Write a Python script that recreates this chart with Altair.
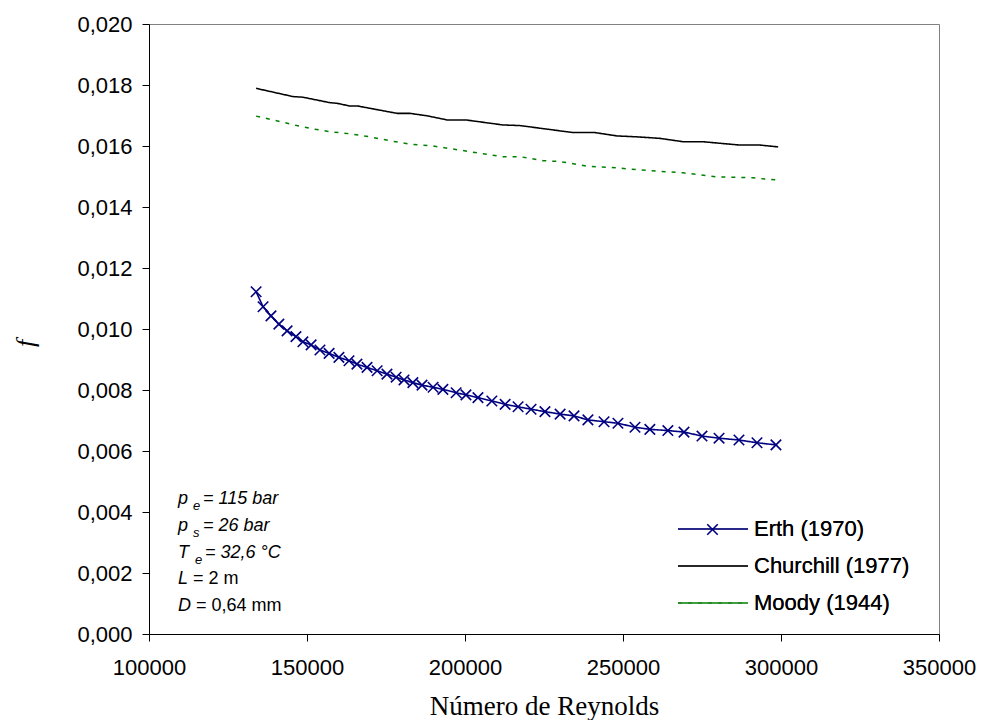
import altair as alt
import pandas as pd

# ---------------- data ----------------
series_names = ["Erth (1970)", "Churchill (1977)", "Moody (1944)"]

erth_re = [133900, 136100, 138600, 141100, 143700, 146500, 148700, 151300, 154100, 157000,
           160100, 163300, 165800, 169000, 172200, 175300, 178200, 180700, 183500, 186400,
           189900, 193000, 197200, 200300, 204100, 208500, 212700, 216800, 220900, 225300,
           230100, 234500, 238900, 244000, 248400, 253800, 258500, 264200, 269300, 275000,
           280400, 286700, 292400, 298400]
erth_f = [0.01122, 0.01073, 0.01043, 0.01016, 0.00994, 0.00975, 0.00958, 0.00948, 0.00931, 0.00920,
          0.00907, 0.00896, 0.00885, 0.00874, 0.00863, 0.00852, 0.00842, 0.00833, 0.00824, 0.00816,
          0.00809, 0.00802, 0.00791, 0.00784, 0.00775, 0.00764, 0.00753, 0.00745, 0.00737, 0.00729,
          0.00721, 0.00715, 0.00702, 0.00696, 0.00691, 0.00678, 0.00671, 0.00667, 0.00662, 0.00649,
          0.00642, 0.00636, 0.00627, 0.00620]

churchill_re = [133900, 145600, 148700, 157300, 159500, 163600, 166100, 178500, 182600, 188000,
                194600, 200600, 212000, 217400, 234200, 241100, 248100, 254400, 261700, 269000,
                275300, 287000, 293400, 299100]
churchill_f = [0.01789, 0.01762, 0.01760, 0.01742, 0.01740, 0.01731, 0.01731, 0.01707, 0.01707, 0.01699,
               0.01685, 0.01685, 0.01669, 0.01667, 0.01644, 0.01644, 0.01633, 0.01630, 0.01625, 0.01614,
               0.01614, 0.01603, 0.01603, 0.01597]

moody_re = [133900, 141500, 146800, 151900, 157300, 163600, 169900, 176300, 182600, 189900,
            197500, 204700, 212000, 217400, 224700, 230100, 238600, 248400, 258500, 269000,
            279700, 291100, 296500, 299100]
moody_f = [0.01698, 0.01680, 0.01667, 0.01656, 0.01647, 0.01640, 0.01630, 0.01617, 0.01606, 0.01600,
           0.01588, 0.01576, 0.01565, 0.01565, 0.01552, 0.01549, 0.01534, 0.01528, 0.01519, 0.01512,
           0.01499, 0.01496, 0.01490, 0.01489]

x_ticks = [100000, 150000, 200000, 250000, 300000, 350000]
y_ticks = [0.000, 0.002, 0.004, 0.006, 0.008, 0.010, 0.012, 0.014, 0.016, 0.018, 0.020]

# annotation text: (main symbol, subscript, rest, rest italic?)
annot = [
    ("p", "e", "= 115 bar", True),
    ("p", "s", "= 26 bar", True),
    ("T", "e", "= 32,6 °C", True),
    ("L", "", "= 2 m", False),
    ("D", "", "= 0,64 mm", False),
]

# ---------------- build tables ----------------
df = pd.concat([
    pd.DataFrame({"Re": erth_re, "f": erth_f, "series": series_names[0]}),
    pd.DataFrame({"Re": churchill_re, "f": churchill_f, "series": series_names[1]}),
    pd.DataFrame({"Re": moody_re, "f": moody_f, "series": series_names[2]}),
], ignore_index=True)

colors = ["#000080", "#000000", "#008000"]
dashes = [[1, 0], [1, 0], [4, 6]]
SANS = "Liberation Sans"
SERIF = "Liberation Serif"

x_enc = alt.X("Re:Q",
              scale=alt.Scale(domain=[100000, 350000], nice=False, zero=False),
              axis=alt.Axis(values=x_ticks, format="d", grid=False,
                            labelFont=SANS, labelFontSize=22, labelColor="black",
                            labelBaseline="alphabetic", labelPadding=33,
                            labelFlush=False, labelOverlap=False,
                            tickSize=7, tickColor="black", domainColor="black",
                            title="Número de Reynolds", titleFont=SERIF, titleFontSize=27,
                            titleFontWeight="normal", titleColor="black",
                            titleBaseline="alphabetic", titleY=80))
y_enc = alt.Y("f:Q",
              scale=alt.Scale(domain=[0, 0.02], nice=False, zero=True),
              axis=alt.Axis(values=y_ticks, grid=False,
                            labelExpr="replace(format(datum.value, '.3f'), '.', ',')",
                            labelFont=SANS, labelFontSize=22, labelColor="black",
                            labelPadding=10, labelFlush=False, labelOverlap=False,
                            tickSize=7, tickColor="black", domainColor="black",
                            title="f", titleFont=SERIF, titleFontSize=26,
                            titleFontStyle="italic", titleFontWeight="normal",
                            titleColor="black", titleAngle=270,
                            titleX=-124, titleY=319, titleAlign="center",
                            titleBaseline="middle"))

line_path = "M-1,0H1"
x_path = "M-1,-1L1,1M-1,1L1,-1"

def main_legend():
    return alt.Legend(
        title=None, orient="none", legendX=528, legendY=494, direction="vertical",
        padding=0, labelFont=SANS, labelFontSize=22, labelFontWeight="normal",
        labelColor="black", labelOffset=5, labelLimit=400,
        symbolSize=4900, symbolStrokeWidth=1.6,
        symbolType=line_path, symbolFillColor="transparent",
        clipHeight=22, rowPadding=15)

lines = alt.Chart(df).mark_line().encode(
    x=x_enc, y=y_enc,
    color=alt.Color("series:N", scale=alt.Scale(domain=series_names, range=colors),
                    legend=main_legend()),
    strokeDash=alt.StrokeDash("series:N",
                              scale=alt.Scale(domain=series_names, range=dashes),
                              legend=main_legend()),
    strokeWidth=alt.StrokeWidth("series:N",
                                scale=alt.Scale(domain=series_names, range=[1.6, 1.5, 2.4]),
                                legend=None),
)

# X markers of the Erth series; their legend entry sits on top of the Erth legend line
markers = alt.Chart(df).transform_filter(
    alt.datum.series == series_names[0]
).mark_point(size=110, filled=False, stroke="#000080", strokeWidth=1.6, opacity=1).encode(
    x=alt.X("Re:Q"), y=alt.Y("f:Q"),
    shape=alt.Shape("series:N", scale=alt.Scale(domain=[series_names[0]], range=[x_path]),
                    legend=alt.Legend(title=None, orient="none", legendX=557, legendY=499,
                                      padding=0, symbolSize=110, symbolStrokeWidth=1.6,
                                      symbolStrokeColor="#000080",
                                      symbolFillColor="transparent",
                                      labelOpacity=0, labelFontSize=2)),
)

# annotation layout (pixels inside plot area)
ann_x = 29
ann_y0 = 480
ann_dy = 26.8
sub_dx = [15, 15, 17, 0, 0]
rest_dx = [25, 25, 27, 15, 18]

def seg(text, x, y, size, italic):
    return alt.Chart(alt.Data(values=[{}])).mark_text(
        text=text, align="left", baseline="alphabetic", font=SANS,
        fontSize=size, fontStyle="italic" if italic else "normal", color="black"
    ).encode(x=alt.value(x), y=alt.value(y))

ann_layers = []
for i, (sym, sub, rest, rest_it) in enumerate(annot):
    y = ann_y0 + i * ann_dy
    ann_layers.append(seg(sym, ann_x, y, 18, True))
    if sub:
        ann_layers.append(seg(sub, ann_x + sub_dx[i], y + 6, 13, True))
    ann_layers.append(seg(rest, ann_x + rest_dx[i], y, 18, rest_it))

chart = alt.layer(lines, markers, *ann_layers).resolve_legend(
    color="independent", shape="independent"
).properties(
    width=790, height=610,
    padding={"left": 149, "top": 24, "right": 42, "bottom": 86},
    autosize=alt.AutoSizeParams(type="none"),
    background="white",
).configure_view(stroke="#808080", strokeWidth=1)

chart.save("out.html", embed_options={"renderer": "svg", "actions": False})
